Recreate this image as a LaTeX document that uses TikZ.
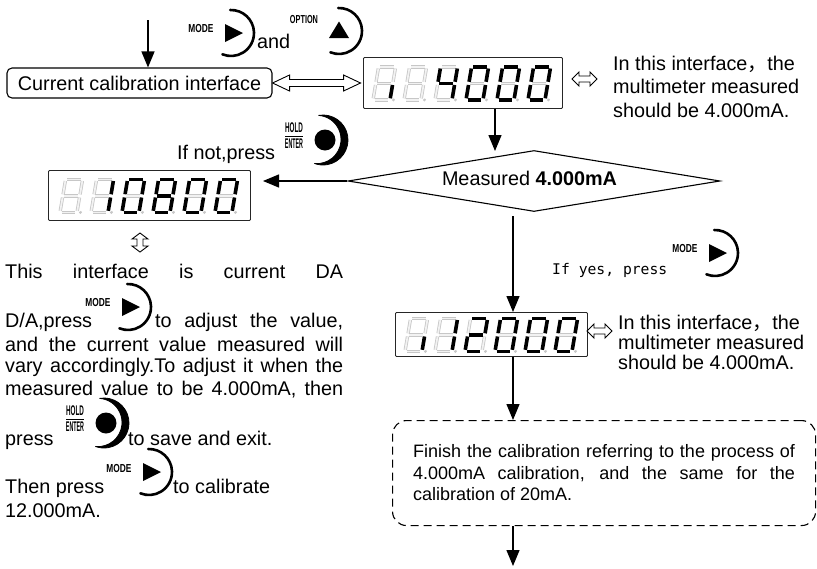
\documentclass[tikz,border=0pt]{standalone}
\usepackage{fontspec}
\setmainfont{Liberation Sans}
\newfontfamily\cjk{Noto Sans CJK SC}
\newfontfamily\monofont{DejaVu Sans Mono}
\usepackage{graphicx}
\usetikzlibrary{arrows.meta,shapes.geometric}

\newcommand\mainsize{\fontsize{19.8}{23.5}\selectfont}
\colorlet{ghost}{black!22}

\makeatletter
\newif\ifsegon
\newcommand\segtest[2]{\edef\segtmp{\noexpand\in@{#2}{#1}}\segtmp
  \ifin@\segontrue\else\segonfalse\fi}
\makeatother

\tikzset{
  flow/.style={-{Triangle[length=16pt,width=13pt]}, line width=1.3pt},
  calbox/.style={draw, line width=1.1pt, rounded corners=5pt, minimum width=265pt, minimum height=30pt, inner sep=0pt},
  lcd/.style={draw=black!85, line width=0.9pt, rounded corners=1pt, anchor=north west, inner sep=0pt},
  decision/.style={diamond, draw, line width=1.1pt, aspect=6, minimum width=372pt, minimum height=61pt, inner sep=0pt},
  finishbox/.style={draw, dash pattern=on 8pt off 5pt, line width=1.1pt, rounded corners=14pt, minimum width=423pt, minimum height=105pt, anchor=north west},
  hollow/.style={draw, line width=0.9pt, fill=white},
  txt/.style={inner sep=0pt, anchor=base west},
  keylabel/.style={inner sep=0pt, font=\bfseries\fontsize{11.6}{12}\selectfont},
  holdlabel/.style={inner sep=0pt, font=\bfseries\fontsize{14}{14}\selectfont},
  keyarc/.style={line width=2.6pt, line cap=round},
  litseg/.style={line width=3.6pt, draw=black},
  ghostseg/.style={line width=0.8pt, draw=ghost, double=black!5, double distance=1.7pt},
  pics/digit/.style={code={
    \begin{scope}[xslant=0.17]
      \foreach \sg/\xa/\ya/\xb/\yb in {a/1.6/33/15.4/33, b/17/31.4/17/18.1, c/17/14.9/17/1.6,
          d/1.6/0/15.4/0, e/0/14.9/0/1.6, f/0/31.4/0/18.1, g/1.6/16.5/15.4/16.5}{
        \segtest{#1}{\sg}
        \ifsegon \draw[litseg] (\xa,\ya) -- (\xb,\yb);
        \else \draw[ghostseg] (\xa,\ya) -- (\xb,\yb); \fi
      }
      \fill[ghost] (20.5,0) circle (1.6);
    \end{scope}
  }},
  pics/modebtn/.style={code={
    \draw[keyarc] (92:23) arc[start angle=92, end angle=-112, radius=23];
    \fill (-6,9) -- (12,0) -- (-6,-9) -- cycle;
    \node[keylabel] (-lab) at (-30,4) {\scalebox{0.72}[1]{MODE}};
  }},
  pics/optionbtn/.style={code={
    \draw[keyarc] (92:23) arc[start angle=92, end angle=-112, radius=23];
    \fill (0,9.5) -- (10,-7) -- (-10,-7) -- cycle;
    \node[keylabel] (-lab) at (-35,11) {\scalebox{0.63}[1]{OPTION}};
  }},
  pics/holdbtn/.style={code={
    \filldraw[line width=0.8pt, line join=round] (100:25) arc[start angle=100, end angle=-110, radius=25]
      arc[start angle=-95.75, end angle=85.7, radius=24.15] -- cycle;
    \fill (2,0) circle (10.5);
    \node[holdlabel] (-hold) at (-29,12) {\scalebox{0.45}[1]{HOLD}};
    \node[holdlabel] (-enter) at (-29,-4) {\scalebox{0.38}[1]{ENTER}};
    \draw[line width=0.7pt] (-38,4) -- (-20,4);
  }}
}

\begin{document}
\begin{tikzpicture}[x=1pt, y=1pt, font=\mainsize]
  \useasboundingbox (0,0) rectangle (817,-568);

  % Ingresso
  \coordinate (start) at (148,-20);
  \node[calbox] (cal) at (139.5,-83) {Current calibration interface};
  \draw[flow] (start) -- (start |- cal.north);

  % Tasti MODE e OPTION
  \pic (topmode) at (231,-33) {modebtn};
  \node[txt] (andtext) at (257,-48) {and};
  \pic (topoption) at (339,-31) {optionbtn};

  % Doppia freccia
  \draw[hollow] (cal.east) -- ++(17,8) -- ++(0,-4.5) -- ++(54,0) -- ++(0,4.5) -- ++(17,-8)
    -- ++(-17,-8) -- ++(0,4.5) -- ++(-54,0) -- ++(0,-4.5) -- cycle;

  % Display 4000
  \node[lcd, minimum width=199pt, minimum height=51pt] (lcd1) at (363,-57) {};
  \foreach \dg [count=\i] in {c,-,bcfg,abcdef,abcdef,abcdef}
    \pic at ([shift={({10+(\i-1)*31},9)}]lcd1.south west) {digit=\dg};
  \draw[hollow] (572,-79) -- ++(7,7) -- ++(0,-4) -- ++(11,0) -- ++(0,4) -- ++(7,-7)
    -- ++(-7,-7) -- ++(0,4) -- ++(-11,0) -- ++(0,-4) -- cycle;
  \node[txt] (note1a) at (613,-70) {In this interface{\cjk ，}the};
  \node[txt] (note1b) at (613,-93.5) {multimeter measured};
  \node[txt] (note1c) at (613,-117) {should be 4.000mA.};

  % Decisione
  \node[decision] (dia) at (534,-181) {};
  \node[anchor=base, inner sep=0pt] (diatext) at (529.5,-185) {Measured \textbf{4.000mA}};
  \coordinate (dtop) at (495,-151);
  \draw[flow] (dtop |- lcd1.south) -- (dtop);

  % Ramo no
  \pic (nohold) at (323,-140) {holdbtn};
  \node[txt] (notext) at (177,-159) {If not,press};
  \coordinate (noend) at (263,-181);
  \draw[flow] (dia.west) -- (noend);
  \node[lcd, minimum width=202pt, minimum height=50pt] (lcd2) at (48,-170) {};
  \foreach \dg [count=\i] in {-,bc,abcdef,abcdefg,abcdef,abcdef}
    \pic at ([shift={({12+(\i-1)*31},8.5)}]lcd2.south west) {digit=\dg};
  \draw[hollow] (140,-233) -- ++(-8,-6) -- ++(5,0) -- ++(0,-7) -- ++(-5,0) -- ++(8,-6)
    -- ++(8,6) -- ++(-5,0) -- ++(0,7) -- ++(5,0) -- cycle;

  % Testo a sinistra
  \node[txt] (l1) at (5,-278) {\makebox[338pt][s]{This interface is current DA}};
  \node[txt] (l2a) at (5,-327) {D/A,press};
  \pic (damode) at (128,-307) {modebtn};
  \node[txt] (l2b) at (155,-327) {\makebox[188pt][s]{to adjust the value,}};
  \node[txt] (l3) at (5,-351) {\makebox[338pt][s]{and the current value measured will}};
  \node[txt] (l4) at (5,-372.5) {\makebox[338pt][s]{vary accordingly.To adjust it when the}};
  \node[txt] (l5) at (5,-395) {\makebox[338pt][s]{measured value to be 4.000mA, then}};
  \node[txt] (l6a) at (5,-445) {press};
  \pic (savehold) at (104,-423) {holdbtn};
  \node[txt] (l6b) at (128,-445) {to save and exit.};
  \node[txt] (l7a) at (5,-493) {Then press};
  \pic (calmode) at (149,-472) {modebtn};
  \node[txt] (l7b) at (173,-493) {to calibrate};
  \node[txt] (l8) at (5,-517) {12.000mA.};

  % Ramo si
  \coordinate (ystart) at (513,-216);
  \node[txt, font=\monofont\fontsize{14.7}{16}\selectfont] (yestext) at (552,-274) {If yes, press};
  \pic (yesmode) at (715,-253) {modebtn};
  \node[lcd, minimum width=192pt, minimum height=44pt] (lcd3) at (395,-312) {};
  \foreach \dg [count=\i] in {c,bc,abdeg,abcdef,abcdef,abcdef}
    \pic at ([shift={({10+(\i-1)*30},5.5)}]lcd3.south west) {digit=\dg};
  \draw[flow] (ystart) -- (ystart |- lcd3.north);
  \draw[hollow] (587,-331) -- ++(7,7) -- ++(0,-4) -- ++(11,0) -- ++(0,4) -- ++(7,-7)
    -- ++(-7,-7) -- ++(0,4) -- ++(-11,0) -- ++(0,-4) -- cycle;
  \node[txt] (note2a) at (618,-329) {In this interface{\cjk ，}the};
  \node[txt] (note2b) at (618,-349) {multimeter measured};
  \node[txt] (note2c) at (618,-369) {should be 4.000mA.};

  % Fine
  \node[finishbox, align=left, font=\fontsize{18}{21.5}\selectfont] (finish) at (392,-420)
    {\makebox[382pt][s]{Finish the calibration referring to the process of}\\
     \makebox[382pt][s]{4.000mA calibration, and the same for the}\\
     calibration of 20mA.};
  \draw[flow] (ystart |- lcd3.south) -- (ystart |- finish.north);
  \coordinate (endpt) at (513,-566);
  \draw[flow] (endpt |- finish.south) -- (endpt);
\end{tikzpicture}
\end{document}
